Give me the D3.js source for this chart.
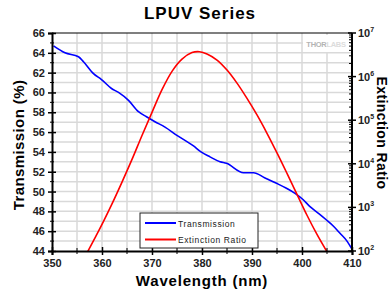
<!DOCTYPE html>
<html>
<head>
<meta charset="utf-8">
<script src="https://cdn.jsdelivr.net/npm/d3@7"></script>
<style>
  body { margin: 0; background: #fff; }
  text { font-family: Arial, "Liberation Sans", sans-serif; }
</style>
</head>
<body>
<div id="chart"></div>
<script>
// data
const transWl = [350.3, 352.6, 355.3, 356.3, 358.3, 359.9, 361.9, 363.3, 365.3, 367.3, 368.9, 370.6, 372.6, 374.9, 378.3, 379.8, 381.6, 383.6, 384.9, 388.3, 390.3, 392.5, 394.9, 396.8, 398.6, 400.2, 401.6, 403.3, 404.9, 406.3, 407.6, 409, 409.9];
const transVal = [64.7, 64.0, 63.6, 63.1, 61.9, 61.3, 60.4, 60.0, 59.2, 58.06, 57.55, 57.05, 56.5, 55.7, 54.6, 54.0, 53.5, 53.01, 52.85, 51.9, 51.9, 51.4, 50.83, 50.35, 49.82, 49.2, 48.47, 47.8, 47.13, 46.5, 45.79, 45.0, 44.27];
const extWl = [356.5, 357.3, 358.6, 360.3, 362, 364, 366, 368, 370, 372, 374, 376, 378, 379.5, 381, 383, 385, 387, 389, 391, 393, 395, 397, 399, 401, 403, 405, 405.6];
const extLog = [1.84, 2.02, 2.3, 2.68, 3.08, 3.58, 4.1, 4.65, 5.18, 5.7, 6.12, 6.4, 6.55, 6.57, 6.52, 6.38, 6.15, 5.85, 5.5, 5.12, 4.7, 4.25, 3.78, 3.3, 2.82, 2.38, 1.98, 1.86];
const xTicks = [350, 360, 370, 380, 390, 400, 410];
const yTicks = [44, 46, 48, 50, 52, 54, 56, 58, 60, 62, 64, 66];
const rightExp = [2, 3, 4, 5, 6, 7];
const seriesNames = ["Transmission", "Extinction Ratio"];
const seriesColors = ["#0000ff", "#ff0000"];

const width = 390, height = 294;
const m = {left: 52, right: 352, top: 33, bottom: 251};

const svg = d3.select("#chart").append("svg")
  .attr("width", width).attr("height", height);

const x = d3.scaleLinear().domain([350, 410]).range([m.left, m.right]);
const y = d3.scaleLinear().domain([44, 66]).range([m.bottom, m.top]);
const y2 = d3.scaleLog().domain([1e2, 1e7]).range([m.bottom, m.top]);

// grid
const grid = svg.append("g").attr("stroke", "#d9d9d9").attr("stroke-width", 1.5);
grid.selectAll(".gv").data(d3.range(355, 410, 5)).join("line")
  .attr("x1", d => x(d)).attr("x2", d => x(d))
  .attr("y1", m.top).attr("y2", m.bottom);
grid.selectAll(".gh").data(d3.range(45, 66, 1)).join("line")
  .attr("x1", m.left).attr("x2", m.right)
  .attr("y1", d => y(d)).attr("y2", d => y(d));

// logo patch
svg.append("rect").attr("x", 303).attr("y", 35).attr("width", 47).attr("height", 17).attr("fill", "#fff");
const logo = svg.append("text").attr("x", 326).attr("y", 47).attr("text-anchor", "middle")
  .attr("font-size", 7.5).attr("font-weight", "bold").attr("letter-spacing", -0.3);
logo.append("tspan").attr("fill", "#b4b4b4").text("THOR");
logo.append("tspan").attr("fill", "#dcdcdc").text("LABS");

// curves
svg.append("clipPath").attr("id", "clip").append("rect")
  .attr("x", m.left).attr("y", m.top).attr("width", m.right - m.left).attr("height", m.bottom - m.top);

const transLine = d3.line().x((d, i) => x(transWl[i])).y(d => y(d)).curve(d3.curveMonotoneX);
const extLine = d3.line().x((d, i) => x(extWl[i])).y(d => y2(Math.pow(10, d))).curve(d3.curveCatmullRom);

svg.append("path").attr("d", transLine(transVal)).attr("fill", "none")
  .attr("stroke", seriesColors[0]).attr("stroke-width", 1.6).attr("clip-path", "url(#clip)");
svg.append("path").attr("d", extLine(extLog)).attr("fill", "none")
  .attr("stroke", seriesColors[1]).attr("stroke-width", 1.6).attr("clip-path", "url(#clip)");

// axes frame
const axisColor = "#000";
svg.append("line").attr("x1", m.left).attr("x2", m.right).attr("y1", m.top).attr("y2", m.top)
  .attr("stroke", axisColor).attr("stroke-width", 1.2);

// left axis
const left = svg.append("g").attr("transform", `translate(${m.left},0)`)
  .call(d3.axisLeft(y).tickValues(yTicks).tickSize(4).tickPadding(3));
left.selectAll(".tick").filter(d => d % 2 === 0).select("line").attr("x2", -4).attr("x1", 4);
left.append("g").selectAll("line").data(d3.range(45, 66, 2)).join("line")
  .attr("x1", -2).attr("x2", 2).attr("y1", d => y(d)).attr("y2", d => y(d)).attr("stroke", axisColor);

// bottom axis
const bottom = svg.append("g").attr("transform", `translate(0,${m.bottom})`)
  .call(d3.axisBottom(x).tickValues(xTicks).tickSize(4).tickPadding(4));
bottom.selectAll(".tick line").attr("y1", -4);
bottom.append("g").selectAll("line").data(d3.range(355, 410, 10)).join("line")
  .attr("x1", d => x(d)).attr("x2", d => x(d)).attr("y1", -3).attr("y2", 3).attr("stroke", axisColor);

// right axis (log)
const right = svg.append("g").attr("transform", `translate(${m.right},0)`);
right.append("line").attr("y1", m.top).attr("y2", m.bottom).attr("stroke", axisColor).attr("stroke-width", 2);
const minor = [];
rightExp.slice(0, -1).forEach(e => { for (let k = 2; k < 10; k++) minor.push(k * Math.pow(10, e)); });
right.selectAll(".mn").data(minor).join("line")
  .attr("x1", -3).attr("x2", 0).attr("y1", d => y2(d)).attr("y2", d => y2(d)).attr("stroke", axisColor);
right.selectAll(".mj").data(rightExp).join("line")
  .attr("x1", -4).attr("x2", 4).attr("y1", d => y2(Math.pow(10, d))).attr("y2", d => y2(Math.pow(10, d)))
  .attr("stroke", axisColor).attr("stroke-width", 1.5);
const rl = right.selectAll(".rl").data(rightExp).join("text")
  .attr("x", 6).attr("y", d => y2(Math.pow(10, d)) + 4)
  .attr("font-size", 11).attr("font-weight", "bold").attr("fill", "#222");
rl.append("tspan").text("10");
rl.append("tspan").attr("dy", -5).attr("font-size", 7).text(d => d);

[left, bottom].forEach(g => {
  g.select(".domain").attr("stroke", axisColor).attr("stroke-width", 2);
  g.selectAll(".tick line").attr("stroke", axisColor).attr("stroke-width", 1.5);
  g.selectAll(".tick text").attr("font-size", 11).attr("font-weight", "bold").attr("fill", "#222")
    .attr("font-family", "Arial, 'Liberation Sans', sans-serif");
});

// titles
svg.append("text").attr("x", 200).attr("y", 19).attr("text-anchor", "middle")
  .attr("font-size", 17).attr("font-weight", "bold").attr("letter-spacing", 1).text("LPUV Series");
svg.append("text").attr("transform", "translate(24,145) rotate(-90)").attr("text-anchor", "middle")
  .attr("font-size", 15).attr("font-weight", "bold").attr("letter-spacing", 0.4).text("Transmission (%)");
svg.append("text").attr("transform", "translate(377,133) rotate(90)").attr("text-anchor", "middle")
  .attr("font-size", 14).attr("font-weight", "bold").attr("letter-spacing", 0.4).text("Extinction Ratio");
svg.append("text").attr("x", 202).attr("y", 286).attr("text-anchor", "middle")
  .attr("font-size", 15).attr("font-weight", "bold").attr("letter-spacing", 0.8).text("Wavelength (nm)");

// legend
const lg = svg.append("g").attr("transform", "translate(140,213)");
lg.append("rect").attr("width", 118).attr("height", 35).attr("fill", "#fff")
  .attr("stroke", "#222").attr("stroke-width", 1);
const items = lg.selectAll(".it").data(seriesNames).join("g")
  .attr("transform", (d, i) => `translate(0,${10 + i * 16.5})`);
items.append("line").attr("x1", 5).attr("x2", 36).attr("stroke", (d, i) => seriesColors[i]).attr("stroke-width", 2);
items.append("text").attr("x", 38).attr("y", 3.5).attr("font-size", 8.5).attr("letter-spacing", 0.6)
  .attr("fill", "#222").text(d => d);
</script>
</body>
</html>
